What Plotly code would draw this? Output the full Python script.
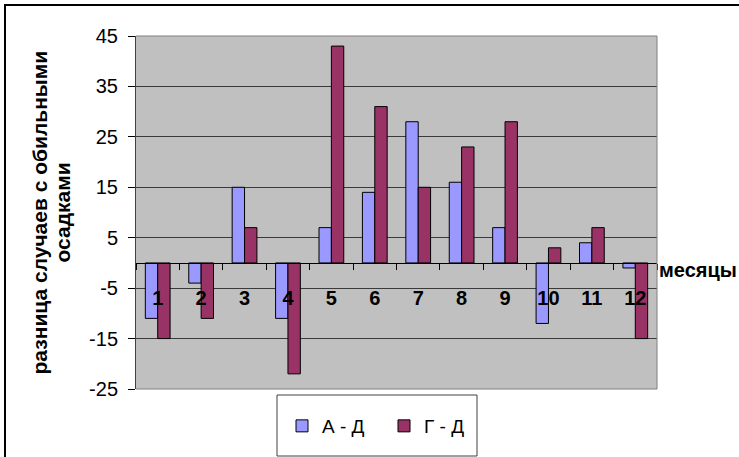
import plotly.graph_objects as go

# Monthly differences in the number of heavy-precipitation cases
months = ["1", "2", "3", "4", "5", "6", "7", "8", "9", "10", "11", "12"]
a_minus_d = [-11, -4, 15, -11, 7, 14, 28, 16, 7, -12, 4, -1]
g_minus_d = [-15, -11, 7, -22, 43, 31, 15, 23, 28, 3, 7, -15]
y_ticks = [-25, -15, -5, 5, 15, 25, 35, 45]
y_tick_labels = ["-25", "-15", "-5", "5", "15", "25", "35", "45"]
y_title_lines = ["разница случаев с обильными", "осадками"]

W, H = 739, 457
L, R, T, B = 136, 82, 36, 68
PW, PH = W - L - R, H - T - B


def px_x(px):
    return (px - L) / PW


def px_y(py):
    return (H - B - py) / PH


FONT = "Arial, 'Liberation Sans', sans-serif"

fig = go.Figure()
fig.add_trace(go.Bar(
    x=months, y=a_minus_d, name="А - Д",
    marker=dict(color="#9999FF", line=dict(color="black", width=1)),
))
fig.add_trace(go.Bar(
    x=months, y=g_minus_d, name="Г - Д",
    marker=dict(color="#993366", line=dict(color="black", width=1)),
))

y_min, y_max = y_ticks[0], y_ticks[-1]

fig.update_layout(
    width=W, height=H,
    margin=dict(l=L, r=R, t=T, b=B, pad=0),
    paper_bgcolor="white",
    plot_bgcolor="#C0C0C0",
    barmode="group",
    bargap=0.43,
    bargroupgap=0,
    font=dict(family=FONT, size=19, color="black"),
    showlegend=True,
    legend=dict(
        orientation="h",
        x=px_x(282), xanchor="left",
        y=px_y(407), yanchor="top",
        bgcolor="rgba(0,0,0,0)",
        borderwidth=0,
        font=dict(family=FONT, size=19, color="black"),
        entrywidth=57, entrywidthmode="pixels",
    ),
    xaxis=dict(
        type="category",
        anchor="free",
        position=(0 - y_min) / (y_max - y_min),
        showline=True, linecolor="black", linewidth=1,
        ticks="outside", ticklen=6, tickcolor="black", tickwidth=1,
        tickson="boundaries",
        showgrid=False, zeroline=False,
        tickfont=dict(family=FONT, size=20, color="black", weight="bold"),
        ticklabelstandoff=17,
    ),
    yaxis=dict(
        range=[y_min, y_max],
        tickvals=y_ticks,
        ticktext=y_tick_labels,
        showline=True, linecolor="#404040", linewidth=1,
        ticks="outside", ticklen=7, tickcolor="black", tickwidth=1,
        showgrid=True, gridcolor="#3a3a3a", gridwidth=1,
        zeroline=False,
        tickfont=dict(family=FONT, size=20, color="black"),
        ticklabelstandoff=6,
    ),
)

# plot-area frame (top, right, bottom)
fig.add_shape(
    type="path", xref="paper", yref="paper",
    path="M 0 1 L 1 1 L 1 0 L 0 0",
    line=dict(color="#808080", width=1), layer="above",
)

# legend box
fig.add_shape(
    type="rect", xref="paper", yref="paper",
    x0=px_x(277), x1=px_x(477), y0=px_y(456), y1=px_y(395),
    line=dict(color="#404040", width=1), fillcolor="white", layer="below",
)

# chart outer frame
fig.add_shape(
    type="rect", xref="paper", yref="paper",
    x0=px_x(5), x1=px_x(760), y0=px_y(480), y1=px_y(5),
    line=dict(color="black", width=2), fillcolor="rgba(0,0,0,0)", layer="below",
)

# vertical axis title, one annotation per line
for line_text, cx in zip(y_title_lines, [39, 62]):
    fig.add_annotation(
        text=line_text,
        textangle=-90,
        xref="paper", yref="paper",
        x=px_x(cx), y=0.5, xanchor="center", yanchor="middle",
        showarrow=False,
        font=dict(family=FONT, size=21, color="black", weight="bold"),
    )

fig.add_annotation(
    text="месяцы",
    xref="paper", yref="y",
    x=1.0, y=0, xanchor="left", yanchor="middle", yshift=-7,
    showarrow=False,
    font=dict(family=FONT, size=20, color="black", weight="bold"),
)

fig.write_html("out.html")
